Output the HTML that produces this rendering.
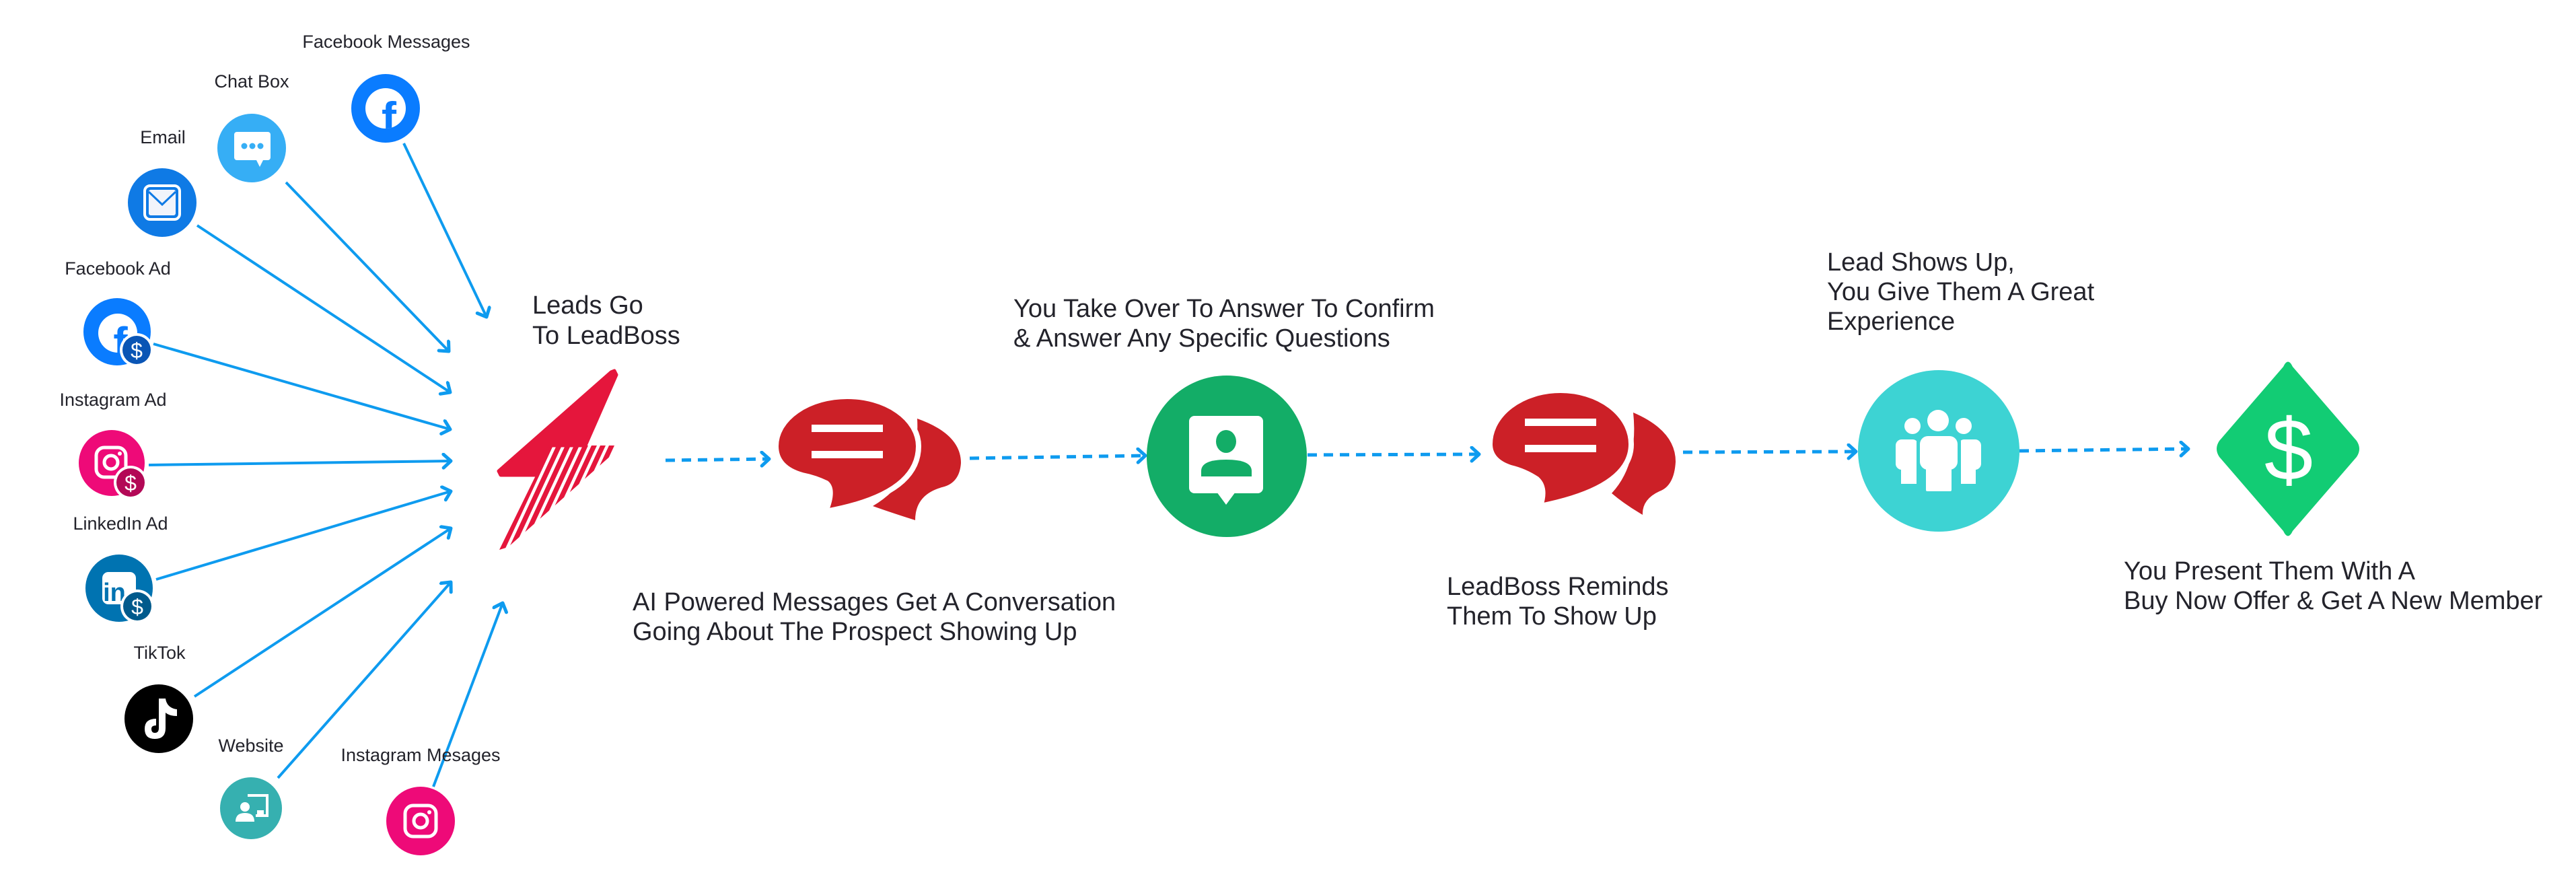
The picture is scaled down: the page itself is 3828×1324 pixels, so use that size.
<!DOCTYPE html>
<html><head><meta charset="utf-8"><style>
html,body{margin:0;padding:0;background:#fff;}
svg{display:block;}
text{font-family:"Liberation Sans",sans-serif;fill:#23232b;}
.s{font-size:27px;}
.b{font-size:38px;}
</style></head><body>
<svg width="3828" height="1324" viewBox="0 0 3828 1324" xmlns="http://www.w3.org/2000/svg">
<defs>
<marker id="ah" markerUnits="userSpaceOnUse" markerWidth="30" markerHeight="30" refX="14" refY="12" orient="auto">
<path d="M3,2 L14,12 L3,22" fill="none" stroke="#0e9bef" stroke-width="5" stroke-linecap="round" stroke-linejoin="round"/>
</marker>
<clipPath id="stripeclip"><polygon points="818,662 913,662 918,668 755,813 742,817"/></clipPath>
<clipPath id="fb1"><circle cx="573" cy="161" r="30"/></clipPath>
<clipPath id="fb2"><circle cx="175" cy="495" r="29"/></clipPath>
</defs>

<!-- solid arrows -->
<g stroke="#0e9bef" stroke-width="4" fill="none" marker-end="url(#ah)">
<line x1="600" y1="213" x2="723" y2="471"/>
<line x1="425" y1="271" x2="667" y2="522"/>
<line x1="293" y1="335" x2="669" y2="583"/>
<line x1="228" y1="511" x2="669" y2="638"/>
<line x1="221" y1="691" x2="670" y2="685"/>
<line x1="232" y1="861" x2="670" y2="730"/>
<line x1="289" y1="1035" x2="670" y2="785"/>
<line x1="413" y1="1156" x2="670" y2="865"/>
<line x1="644" y1="1169" x2="747" y2="896"/>
</g>

<!-- dashed connectors -->
<g stroke="#0e9bef" stroke-width="5" fill="none" stroke-dasharray="14 10" marker-end="url(#ah)">
<line x1="989" y1="684" x2="1143" y2="682"/>
<line x1="1441" y1="681" x2="1702" y2="677"/>
<line x1="1943" y1="676" x2="2198" y2="675"/>
<line x1="2501" y1="672" x2="2758" y2="671"/>
<line x1="3001" y1="670" x2="3252" y2="667"/>
</g>

<!-- small labels -->
<g text-anchor="middle">
<text x="574" y="71" class="s">Facebook Messages</text>
<text x="374" y="130" class="s">Chat Box</text>
<text x="242" y="213" class="s">Email</text>
<text x="175" y="408" class="s">Facebook Ad</text>
<text x="168" y="603" class="s">Instagram Ad</text>
<text x="179" y="787" class="s">LinkedIn Ad</text>
<text x="237" y="979" class="s">TikTok</text>
<text x="373" y="1117" class="s">Website</text>
<text x="625" y="1131" class="s">Instagram Mesages</text>
</g>

<!-- Facebook Messages -->
<circle cx="573" cy="161" r="51" fill="#0a7cff"/>
<circle cx="573" cy="161" r="30" fill="#fff"/>
<text x="578" y="198" text-anchor="middle" clip-path="url(#fb1)" style="font-size:66px;font-weight:bold;fill:#0a7cff">f</text>

<!-- Chat Box -->
<circle cx="374" cy="220" r="51" fill="#36aef5"/>
<rect x="348" y="196" width="54" height="42" rx="4" fill="#fff"/>
<polygon points="380,236 392,236 386,248" fill="#fff"/>
<circle cx="363" cy="217" r="4.5" fill="#36aef5"/><circle cx="375" cy="217" r="4.5" fill="#36aef5"/><circle cx="387" cy="217" r="4.5" fill="#36aef5"/>

<!-- Email -->
<circle cx="241" cy="301" r="51" fill="#0f7ae5"/>
<rect x="215" y="276" width="52" height="50" rx="8" fill="none" stroke="#fff" stroke-width="4"/>
<rect x="221" y="282" width="40" height="38" rx="3" fill="#f1f4fb"/>
<path d="M221,285 L241,304 L261,285" fill="none" stroke="#0f7ae5" stroke-width="3"/>

<!-- Facebook Ad -->
<circle cx="174" cy="493" r="50" fill="#0a7cff"/>
<circle cx="175" cy="495" r="29" fill="#fff"/>
<text x="179" y="531" text-anchor="middle" clip-path="url(#fb2)" style="font-size:64px;font-weight:bold;fill:#0a7cff">f</text>
<circle cx="203" cy="520" r="25" fill="#fff"/>
<circle cx="203" cy="520" r="21" fill="#0a55b5"/>
<text x="203" y="532" text-anchor="middle" style="font-size:32px;fill:#fff">$</text>

<!-- Instagram Ad -->
<circle cx="166" cy="688" r="49" fill="#ee0a78"/>
<rect x="143" y="665" width="44" height="44" rx="12" fill="none" stroke="#fff" stroke-width="5"/>
<circle cx="165" cy="687" r="10" fill="none" stroke="#fff" stroke-width="5"/>
<circle cx="178" cy="674" r="3" fill="#fff"/>
<circle cx="194" cy="717" r="25" fill="#fff"/>
<circle cx="194" cy="717" r="21" fill="#b30856"/>
<text x="194" y="729" text-anchor="middle" style="font-size:32px;fill:#fff">$</text>

<!-- LinkedIn Ad -->
<circle cx="177" cy="874" r="50" fill="#0073b1"/>
<rect x="152" y="850" width="50" height="48" rx="9" fill="#fff"/>
<text x="170" y="893" text-anchor="middle" style="font-size:38px;font-weight:bold;fill:#0073b1">in</text>
<circle cx="204" cy="901" r="25" fill="#fff"/>
<circle cx="204" cy="901" r="21" fill="#005a8c"/>
<text x="204" y="913" text-anchor="middle" style="font-size:32px;fill:#fff">$</text>

<!-- TikTok -->
<circle cx="236" cy="1068" r="51" fill="#000"/>
<path d="M236,1038 L246,1038 Q248,1052 263,1054 L263,1064 Q252,1064 246,1059 L246,1082 Q246,1098 230,1098 Q215,1098 215,1083 Q215,1068 232,1068 L232,1078 Q225,1078 225,1083 Q225,1089 230,1089 Q236,1089 236,1082 Z" fill="#fff"/>

<!-- Website -->
<circle cx="373" cy="1201" r="46" fill="#36b0b0"/>
<path d="M368,1182 L397,1182 L397,1212 L380,1212" fill="none" stroke="#fff" stroke-width="4"/>
<circle cx="364" cy="1199" r="7" fill="#fff"/>
<path d="M350,1221 Q350,1208 364,1208 Q378,1208 378,1221 Z" fill="#fff"/>
<rect x="382" y="1204" width="10" height="6" fill="#fff"/>

<!-- Instagram Messages -->
<circle cx="625" cy="1220" r="51" fill="#ee0a78"/>
<rect x="602" y="1197" width="46" height="46" rx="12" fill="none" stroke="#fff" stroke-width="5"/>
<circle cx="625" cy="1220" r="10" fill="none" stroke="#fff" stroke-width="5"/>
<circle cx="638" cy="1207" r="3" fill="#fff"/>

<!-- LeadBoss logo -->
<polygon points="908,553 913,551 916,557 870,662 818,662 796,706 744,706 741,700" fill="#e5163c" stroke="#e5163c" stroke-width="5" stroke-linejoin="round"/>
<g clip-path="url(#stripeclip)">
<g fill="#e5163c">
<polygon points="812,662 822,662 750,817 740,817"/>
<polygon points="827,662 835,662 763,817 755,817"/>
<polygon points="840,662 848,662 776,817 768,817"/>
<polygon points="853,662 861,662 789,817 781,817"/>
<polygon points="866,662 874,662 802,817 794,817"/>
<polygon points="879,662 887,662 815,817 807,817"/>
<polygon points="892,662 900,662 828,817 820,817"/>
<polygon points="905,662 913,662 841,817 833,817"/>
</g>
</g>

<text x="791" y="466" class="b">Leads Go</text>
<text x="791" y="511" class="b">To LeadBoss</text>

<!-- bubble 1 -->
<path d="M1363,622 Q1428,645 1428,688 Q1426,718 1400,724 Q1360,735 1360,773 Q1325,762 1297,752 Q1368,710 1363,622 Z" fill="#cc2027"/>
<path d="M1153,663 A106,74 0 0 1 1365,663 Q1365,735 1227,760 Q1240,728 1228,718 Q1212,710 1192,706 Q1153,695 1153,663 Z" fill="#cc2027" stroke="#fff" stroke-width="8"/>
<rect x="1206" y="631" width="106" height="11" fill="#fff"/>
<rect x="1206" y="670" width="106" height="11" fill="#fff"/>

<text x="940" y="907" class="b">AI Powered Messages Get A Conversation</text>
<text x="940" y="951" class="b">Going About The Prospect Showing Up</text>

<!-- green circle -->
<ellipse cx="1823" cy="678" rx="119" ry="120" fill="#13ad67"/>
<rect x="1767" y="618" width="110" height="115" rx="8" fill="#fff"/>
<polygon points="1808,731 1836,731 1822,750" fill="#fff"/>
<ellipse cx="1822" cy="656" rx="15" ry="17" fill="#13ad67"/>
<path d="M1785,708 L1785,700 Q1785,683 1822,683 Q1860,683 1860,700 L1860,708 Z" fill="#13ad67"/>

<text x="1506" y="471" class="b">You Take Over To Answer To Confirm</text>
<text x="1506" y="515" class="b"> &amp; Answer Any Specific Questions</text>

<!-- bubble 2 -->
<path d="M2427,613 Q2490,640 2490,686 Q2488,722 2466,730 Q2440,742 2441,765 Q2415,750 2395,733 Q2435,690 2427,613 Z" fill="#cc2027"/>
<path d="M2214,660 A105,80 0 0 1 2424,660 Q2424,725 2289,752 Q2298,725 2284,712 Q2266,700 2245,695 Q2214,685 2214,660 Z" fill="#cc2027" stroke="#fff" stroke-width="8"/>
<rect x="2266" y="622" width="106" height="11" fill="#fff"/>
<rect x="2266" y="661" width="106" height="11" fill="#fff"/>

<text x="2150" y="884" class="b">LeadBoss Reminds</text>
<text x="2150" y="928" class="b">Them To Show Up</text>

<!-- teal circle -->
<ellipse cx="2881" cy="670" rx="120" ry="120" fill="#3dd3d3"/>
<g fill="#fff">
<circle cx="2842" cy="633" r="12"/>
<circle cx="2918" cy="633" r="12"/>
<rect x="2817" y="653" width="34" height="45" rx="9"/>
<rect x="2825" y="690" width="24" height="29"/>
<rect x="2910" y="653" width="34" height="45" rx="9"/>
<rect x="2912" y="690" width="24" height="29"/>
</g>
<rect x="2848" y="644" width="66" height="96" fill="#3dd3d3" rx="12"/>
<g fill="#fff">
<circle cx="2880" cy="625" r="16"/>
<rect x="2853" y="648" width="56" height="50" rx="12"/>
<rect x="2862" y="690" width="38" height="40" rx="2"/>
</g>

<text x="2715" y="402" class="b">Lead Shows Up,</text>
<text x="2715" y="446" class="b">You Give Them A Great</text>
<text x="2715" y="490" class="b">Experience</text>

<!-- diamond -->
<path d="M3393,545 Q3400,530 3407,545 L3502,655 Q3510,667 3502,679 L3407,789 Q3400,804 3393,789 L3298,679 Q3290,667 3298,655 Z" fill="#12cc74"/>
<text x="3401" y="713" text-anchor="middle" style="font-size:130px;fill:#fff">$</text>

<text x="3156" y="861" class="b">You Present Them With A</text>
<text x="3156" y="905" class="b">Buy Now Offer &amp; Get A New Member</text>
</svg>
</body></html>
